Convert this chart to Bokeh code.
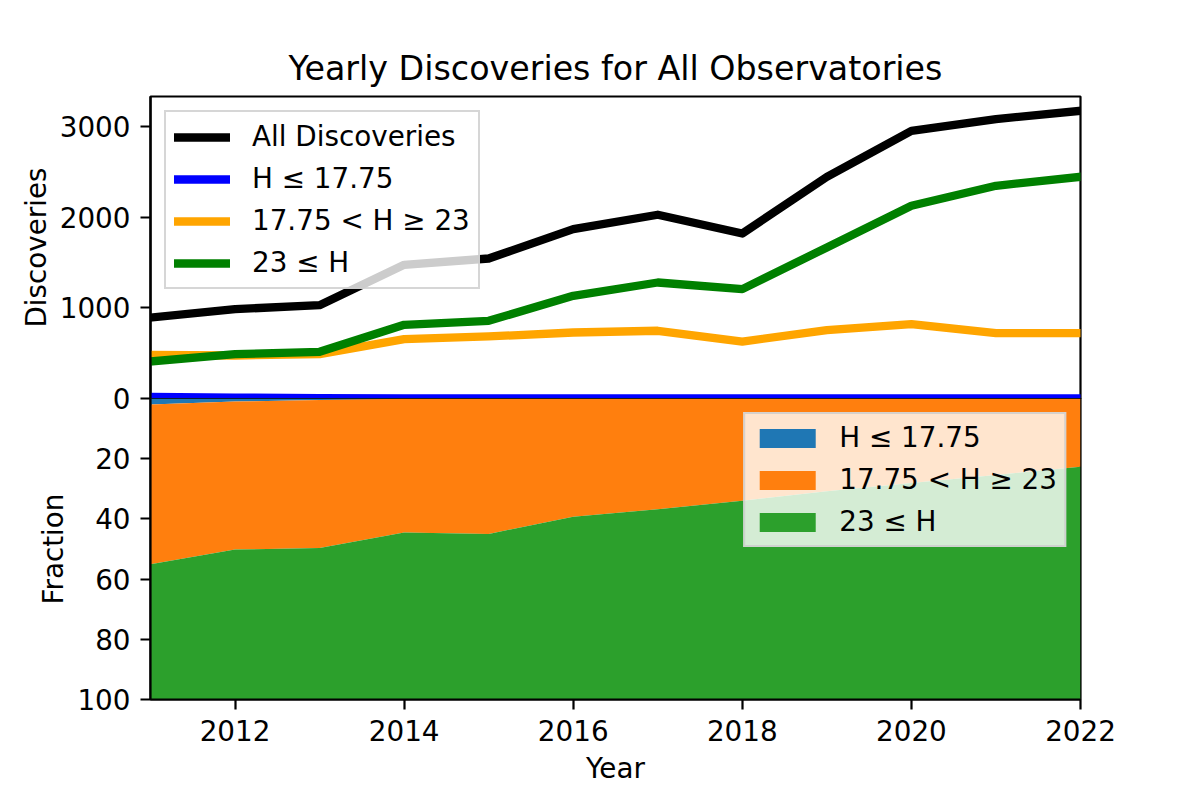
from bokeh.plotting import figure
from bokeh.models import Range1d, FixedTicker, Legend, LegendItem, ColumnDataSource
from bokeh.layouts import column
from bokeh.embed import file_html
from bokeh.resources import INLINE

# ---------------- data ----------------
years = [2011, 2012, 2013, 2014, 2015, 2016, 2017, 2018, 2019, 2020, 2021, 2022]
all_discoveries = [894, 987, 1031, 1476, 1546, 1871, 2029, 1822, 2448, 2956, 3086, 3177]
n_bright = [18, 10, 5, 2, 2, 2, 2, 2, 2, 2, 2, 2]
n_mid = [482, 475, 490, 656, 685, 729, 748, 629, 755, 822, 722, 722]
n_faint = [409, 490, 516, 814, 858, 1134, 1281, 1208, 1668, 2128, 2349, 2448]

frac_bright = [2.0, 1.0, 0.5, 0.1, 0.1, 0.1, 0.1, 0.1, 0.1, 0.1, 0.1, 0.1]
frac_mid = [53.1, 49.2, 49.2, 44.4, 44.9, 39.2, 36.7, 33.9, 30.7, 28.0, 25.3, 22.6]
frac_faint = [44.9, 49.8, 50.3, 55.5, 55.0, 60.7, 63.2, 66.0, 69.2, 71.9, 74.6, 77.3]

labels = ["H ≤ 17.75", "17.75 < H ≥ 23", "23 ≤ H"]
x_ticks = [2012, 2014, 2016, 2018, 2020, 2022]
count_ticks = [0, 1000, 2000, 3000]
frac_ticks = [20, 40, 60, 80, 100]

FONT = "DejaVu Sans"
TICK_FS = "27.8px"
LW = 8.3
SPINE = 2.2
GAP = 24  # overlap between the two panels' borders

xr = Range1d(2011, 2022)


def style_axis(ax, ticks):
    ax.ticker = FixedTicker(ticks=ticks, minor_ticks=[])
    ax.major_tick_out = 10
    ax.major_tick_in = 0
    ax.minor_tick_out = 0
    ax.minor_tick_in = 0
    ax.major_tick_line_width = SPINE
    ax.major_tick_line_color = "black"
    ax.axis_line_width = SPINE
    ax.axis_line_color = "black"
    ax.major_label_text_font = FONT
    ax.major_label_text_font_size = TICK_FS
    ax.major_label_text_color = "black"
    ax.major_label_standoff = 10
    ax.axis_label_text_font = FONT
    ax.axis_label_text_font_size = TICK_FS
    ax.axis_label_text_font_style = "normal"
    ax.axis_label_text_color = "black"
    ax.axis_label_standoff = 4


def style_legend(leg):
    leg.label_text_font = FONT
    leg.label_text_font_size = TICK_FS
    leg.label_text_color = "black"
    leg.background_fill_color = "white"
    leg.background_fill_alpha = 0.8
    leg.border_line_color = "#cccccc"
    leg.border_line_width = SPINE
    leg.border_line_alpha = 0.8


# ---------------- top panel ----------------
p1 = figure(frame_width=930, frame_height=302, x_range=xr,
            y_range=Range1d(0, 3335), x_axis_location=None,
            output_backend="svg", toolbar_location=None,
            min_border_left=150, min_border_right=60,
            min_border_top=96, min_border_bottom=GAP,
            title="Yearly Discoveries for All Observatories")
p1.title.align = "center"
p1.title.text_font = FONT
p1.title.text_font_size = "33.3px"
p1.title.text_font_style = "normal"
p1.title.text_color = "black"
p1.title.standoff = 17
p1.outline_line_color = "black"
p1.outline_line_width = SPINE
p1.outline_line_alpha = 1
p1.grid.visible = False
p1.border_fill_alpha = 0
style_axis(p1.yaxis[0], count_ticks)
p1.yaxis.axis_label = "Discoveries"

common = dict(line_width=LW, line_join="round", line_cap="square")
r_all = p1.line(years, all_discoveries, color="black", **common)
r_b = p1.line(years, n_bright, color="blue", **common)
r_m = p1.line(years, n_mid, color="orange", **common)
r_f = p1.line(years, n_faint, color="green", **common)

leg1 = Legend(items=[LegendItem(label="All Discoveries", renderers=[r_all]),
                     LegendItem(label=labels[0], renderers=[r_b]),
                     LegendItem(label=labels[1], renderers=[r_m]),
                     LegendItem(label=labels[2], renderers=[r_f])],
              location="top_left", margin=14, padding=8, spacing=9,
              glyph_width=56, glyph_height=32, label_standoff=22)
style_legend(leg1)
p1.add_layout(leg1)

# ---------------- bottom panel ----------------
src = ColumnDataSource(dict(year=years, b=frac_bright, m=frac_mid, f=frac_faint))
p2 = figure(frame_width=930, frame_height=301, x_range=xr,
            y_range=Range1d(100, 0),
            output_backend="svg", toolbar_location=None,
            min_border_left=150, min_border_right=60,
            min_border_top=0, min_border_bottom=92)
p2.margin = (-GAP, 0, 0, 0)
p2.outline_line_color = "black"
p2.outline_line_width = SPINE
p2.outline_line_alpha = 1
p2.grid.visible = False
p2.border_fill_alpha = 0
style_axis(p2.xaxis[0], x_ticks)
style_axis(p2.yaxis[0], frac_ticks)
p2.xaxis.axis_label = "Year"
p2.xaxis.axis_label_standoff = 8
p2.yaxis.axis_label = "Fraction"

areas = p2.varea_stack(["b", "m", "f"], x="year", source=src,
                       color=["#1f77b4", "#ff7f0e", "#2ca02c"])

leg2 = Legend(items=[LegendItem(label=labels[i], renderers=[areas[i]]) for i in range(3)],
              location="top_right", margin=14, padding=7, spacing=9,
              glyph_width=70, glyph_height=24, label_standoff=17)
style_legend(leg2)
p2.add_layout(leg2)

layout = column(p1, p2)
open("out.html", "w").write(file_html(layout, INLINE))
